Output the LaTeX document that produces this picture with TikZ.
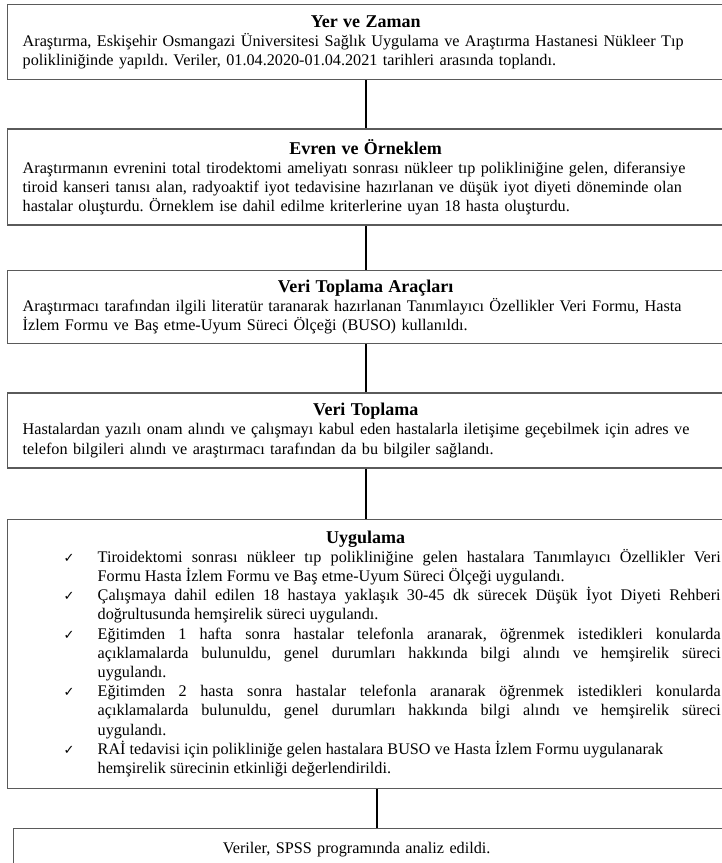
\documentclass[tikz,border=0pt]{standalone}
\usepackage{fontspec}
\setmainfont{Liberation Serif}
\newfontfamily\symfont{DejaVu Sans}
\usetikzlibrary{positioning}
\setlength{\parindent}{0pt}
\frenchspacing

% title line of a box, centred
\newcommand{\boxtitle}[1]{\makebox[\hsize][c]{\fontsize{18}{19}\selectfont\bfseries #1}\par}
% one ticked item in the Uygulama box
\newcommand{\tickitem}{\par\parshape 1 75pt 623pt \noindent\llap{\makebox[34pt][l]{\symfont\fontsize{13}{13}\selectfont ✓}}}

\begin{document}
\begin{tikzpicture}[
    % Define standard styles for the boxes and the links
    x=1pt, y=1pt,
    stepbox/.style={
        rectangle,
        draw={rgb,255:red,90;green,90;blue,90},
        line width=1.4pt,
        anchor=north,
        inner xsep=15pt,
        inner ysep=4pt,
        text width=686pt,
        minimum width=716pt,
        align=left,
        font=\fontsize{16.2}{19.2}\selectfont
    },
    link/.style={
        black,
        line width=2.2pt
    }
]
    \useasboundingbox (0,0) rectangle (721,-863);

    % --- 1. Place Boxes ---
    \node[stepbox, minimum height=75pt, anchor=north west] (place) at (7,-4) {%
        \boxtitle{Yer ve Zaman}
        Araştırma, Eskişehir Osmangazi Üniversitesi Sağlık Uygulama ve Araştırma Hastanesi Nükleer Tıp\\
        polikliniğinde yapıldı. Veriler, 01.04.2020-01.04.2021 tarihleri arasında toplandı.};

    \node[stepbox, minimum height=96pt, below=48pt of place] (sample) {%
        \boxtitle{Evren ve Örneklem}
        Araştırmanın evrenini total tirodektomi ameliyatı sonrası nükleer tıp polikliniğine gelen, diferansiye\\
        tiroid kanseri tanısı alan, radyoaktif iyot tedavisine hazırlanan ve düşük iyot diyeti döneminde olan\\
        hastalar oluşturdu. Örneklem ise dahil edilme kriterlerine uyan 18 hasta oluşturdu.};

    \node[stepbox, minimum height=73pt, below=44pt of sample] (tools) {%
        \boxtitle{Veri Toplama Araçları}
        Araştırmacı tarafından ilgili literatür taranarak hazırlanan Tanımlayıcı Özellikler Veri Formu, Hasta\\
        İzlem Formu ve Baş etme-Uyum Süreci Ölçeği (BUSO) kullanıldı.};

    \node[stepbox, minimum height=75pt, below=48pt of tools] (collect) {%
        \boxtitle{Veri Toplama}
        Hastalardan yazılı onam alındı ve çalışmayı kabul eden hastalarla iletişime geçebilmek için adres ve\\
        telefon bilgileri alındı ve araştırmacı tarafından da bu bilgiler sağlandı.};

    % Uygulama: justified items with a tick
    \node[stepbox, minimum height=269pt, align=justify, below=50pt of collect] (apply) {%
        \boxtitle{Uygulama}
        \tickitem Tiroidektomi sonrası nükleer tıp polikliniğine gelen hastalara Tanımlayıcı Özellikler Veri\linebreak
        Formu Hasta İzlem Formu ve Baş etme-Uyum Süreci Ölçeği uygulandı.
        \tickitem Çalışmaya dahil edilen 18 hastaya yaklaşık 30-45 dk sürecek Düşük İyot Diyeti Rehberi\linebreak
        doğrultusunda hemşirelik süreci uygulandı.
        \tickitem Eğitimden 1 hafta sonra hastalar telefonla aranarak, öğrenmek istedikleri konularda\linebreak
        açıklamalarda bulunuldu, genel durumları hakkında bilgi alındı ve hemşirelik süreci\linebreak
        uygulandı.
        \tickitem Eğitimden 2 hasta sonra hastalar telefonla aranarak öğrenmek istedikleri konularda\linebreak
        açıklamalarda bulunuldu, genel durumları hakkında bilgi alındı ve hemşirelik süreci\linebreak
        uygulandı.
        \tickitem RAİ tedavisi için polikliniğe gelen hastalara BUSO ve Hasta İzlem Formu uygulanarak\newline
        hemşirelik sürecinin etkinliği değerlendirildi.\par};

    \node[stepbox, text width=696pt, minimum width=726pt, inner ysep=3pt,
          text height=22pt, text depth=40pt, below=39pt of apply, xshift=11pt] (analysis) {%
        \makebox[656pt][c]{Veriler, SPSS programında analiz edildi.}};

    % --- 2. Draw Links ---
    \draw[link] (place) -- (sample);
    \draw[link] (sample) -- (tools);
    \draw[link] (tools) -- (collect);
    \draw[link] (collect) -- (apply);
    \draw[link] (apply.south -| analysis.north) -- (analysis.north);

\end{tikzpicture}
\end{document}
